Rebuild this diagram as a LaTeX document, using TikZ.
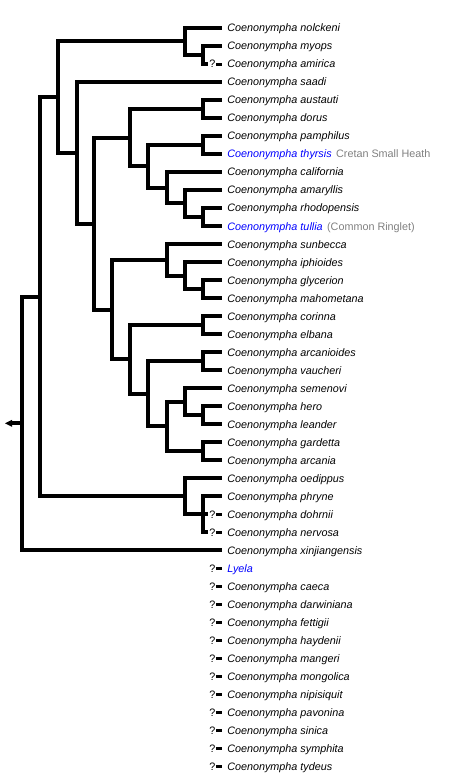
\documentclass[tikz,border=0pt]{standalone}
\usepackage{fontspec}
\setmainfont{Liberation Sans}
\definecolor{linkblue}{RGB}{0,0,255}
\definecolor{commongray}{RGB}{128,128,128}
\begin{document}
\begin{tikzpicture}[x=0.75pt,y=-0.75pt,
  branch/.style={line width=3pt,line join=miter,line cap=butt},
  leaftext/.style={anchor=base west,inner sep=0pt,font=\fontsize{8.1pt}{9pt}\selectfont\itshape},
  bluetext/.style={leaftext,text=linkblue},
  graytext/.style={anchor=base west,inner sep=0pt,font=\fontsize{8.1pt}{9pt}\selectfont,text=commongray},
  qmark/.style={anchor=base,inner sep=0pt,font=\fontsize{8.1pt}{9pt}\selectfont},
  qbar/.style={line width=2.4pt,line cap=butt}]
\useasboundingbox (0,0) rectangle (462,777);

% leaf end points
\foreach \i in {0,...,41}{
  \coordinate (L\i) at (222,{28+18*\i});
  \coordinate (Q\i) at (208,{28+18*\i});
}

% leaf labels
\foreach \i/\t in {0/nolckeni,1/myops,2/amirica,3/saadi,4/austauti,5/dorus,6/pamphilus,
  8/california,9/amaryllis,10/rhodopensis,12/sunbecca,13/iphioides,14/glycerion,
  15/mahometana,16/corinna,17/elbana,18/arcanioides,19/vaucheri,20/semenovi,21/hero,
  22/leander,23/gardetta,24/arcania,25/oedippus,26/phryne,27/dohrnii,28/nervosa,
  29/xinjiangensis,31/caeca,32/darwiniana,33/fettigii,34/haydenii,35/mangeri,
  36/mongolica,37/nipisiquit,38/pavonina,39/sinica,40/symphita,41/tydeus}{
  \node[leaftext] (T\i) at (227,{32+18*\i}) {Coenonympha \t};
}
\node[bluetext] (T7) at (227,{32+18*7}) {Coenonympha thyrsis};
\node[graytext] (G7) at ([xshift=2.9pt]T7.base east) {Cretan Small Heath};
\node[bluetext] (T11) at (227,{32+18*11}) {Coenonympha tullia};
\node[graytext] (G11) at ([xshift=2.9pt]T11.base east) {(Common Ringlet)};
\node[bluetext] (T30) at (227,{32+18*30}) {Lyela};

% uncertain placements
\foreach \i in {2,27,28,30,31,...,41}{
  \node[qmark] (M\i) at (212.3,{32+18*\i}) {?};
  \coordinate (B\i) at (216,{28.5+18*\i});
  \draw[qbar] (B\i) -- ++(6,0);
}

% internal nodes
\coordinate (nma)   at (203,55);
\coordinate (nnm)   at (185,41.5);
\coordinate (nad)   at (203,109);
\coordinate (npt)   at (203,145);
\coordinate (nrt)   at (203,217);
\coordinate (nart)  at (185,203.5);
\coordinate (ncart) at (167,187.75);
\coordinate (nptc)  at (148,166.4);
\coordinate (nx)    at (130,137.7);
\coordinate (ngm)   at (203,289);
\coordinate (nigm)  at (185,275.5);
\coordinate (nsigm) at (167,259.75);
\coordinate (nce)   at (203,325);
\coordinate (nav)   at (203,361);
\coordinate (nhl)   at (203,415);
\coordinate (nshl)  at (185,401.5);
\coordinate (nga)   at (203,451);
\coordinate (nshga) at (167,426.25);
\coordinate (navsh) at (148,393.6);
\coordinate (nceav) at (130,359.3);
\coordinate (nbigb) at (112,309.5);
\coordinate (nbig)  at (94,223.6);
\coordinate (nsaa)  at (77,152.8);
\coordinate (ntop)  at (58,97.1);
\coordinate (npdn)  at (203,514);
\coordinate (nopdn) at (185,496);
\coordinate (nmid)  at (40,296.5);
\coordinate (root)  at (22,423.3);
\coordinate (rootend) at (12,423.3);

\begin{scope}[branch]
\draw (nma) |- (L1);  \draw (nma) |- (Q2);
\draw (nnm) |- (L0);  \draw (nnm) |- (nma);
\draw (nad) |- (L4);  \draw (nad) |- (L5);
\draw (npt) |- (L6);  \draw (npt) |- (L7);
\draw (nrt) |- (L10); \draw (nrt) |- (L11);
\draw (nart) |- (L9); \draw (nart) |- (nrt);
\draw (ncart) |- (L8); \draw (ncart) |- (nart);
\draw (nptc) |- (npt); \draw (nptc) |- (ncart);
\draw (nx) |- (nad); \draw (nx) |- (nptc);
\draw (ngm) |- (L14); \draw (ngm) |- (L15);
\draw (nigm) |- (L13); \draw (nigm) |- (ngm);
\draw (nsigm) |- (L12); \draw (nsigm) |- (nigm);
\draw (nce) |- (L16); \draw (nce) |- (L17);
\draw (nav) |- (L18); \draw (nav) |- (L19);
\draw (nhl) |- (L21); \draw (nhl) |- (L22);
\draw (nshl) |- (L20); \draw (nshl) |- (nhl);
\draw (nga) |- (L23); \draw (nga) |- (L24);
\draw (nshga) |- (nshl); \draw (nshga) |- (nga);
\draw (navsh) |- (nav); \draw (navsh) |- (nshga);
\draw (nceav) |- (nce); \draw (nceav) |- (navsh);
\draw (nbigb) |- (nsigm); \draw (nbigb) |- (nceav);
\draw (nbig) |- (nx); \draw (nbig) |- (nbigb);
\draw (nsaa) |- (L3); \draw (nsaa) |- (nbig);
\draw (ntop) |- (nnm); \draw (ntop) |- (nsaa);
\draw (npdn) |- (L26); \draw (npdn) |- (Q27); \draw (npdn) |- (Q28);
\draw (nopdn) |- (L25); \draw (nopdn) |- (npdn);
\draw (nmid) |- (ntop); \draw (nmid) |- (nopdn);
\draw (root) |- (nmid); \draw (root) |- (L29);
\draw (root) -- (rootend);
\end{scope}
\fill (rootend) ++(0,-3.5) -- (5,423.3) -- (12,426.8) -- cycle;
\end{tikzpicture}
\end{document}
